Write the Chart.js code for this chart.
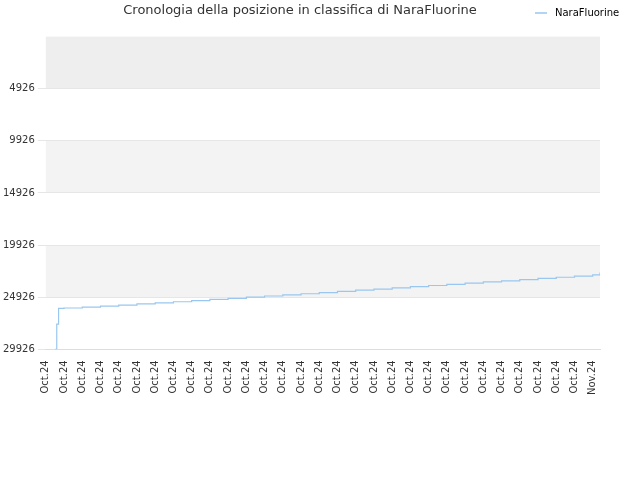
<!DOCTYPE html><html><head><meta charset="utf-8">
<script src="https://cdn.jsdelivr.net/npm/chart.js@4/dist/chart.umd.min.js"></script>
<style>html,body{margin:0;background:#fff}#w{width:640px;height:480px}</style></head><body><div id="w"><canvas id="c"></canvas></div>
<script>
const xLabels=["Oct.24","Oct.24","Oct.24","Oct.24","Oct.24","Oct.24","Oct.24","Oct.24","Oct.24","Oct.24","Oct.24","Oct.24","Oct.24","Oct.24","Oct.24","Oct.24","Oct.24","Oct.24","Oct.24","Oct.24","Oct.24","Oct.24","Oct.24","Oct.24","Oct.24","Oct.24","Oct.24","Oct.24","Oct.24","Oct.24","Nov.24"];
const yTicks=[4926,9926,14926,19926,24926,29926];
const dayPos=[0.5,0.6,0.7,1,2,3,4,5,6,7,8,9,10,11,12,13,14,15,16,17,18,19,20,21,22,23,24,25,26,27,28,29,30,30.4];
const rankValues=[29926,27500,25990,25960,25880,25780,25680,25570,25470,25360,25250,25140,25030,24920,24810,24700,24590,24480,24360,24250,24140,24020,23910,23800,23690,23570,23460,23350,23240,23120,23010,22900,22780,22560];
const seriesName="NaraFluorine";
const bands={id:'bands',beforeDraw(ch){const {ctx,chartArea:a,scales:{y}}=ch;const edges=[-74,...yTicks];const cols=['#eeeeee','#ffffff','#f3f3f3','#ffffff','#f3f3f3','#ffffff'];ctx.save();for(let i=0;i<edges.length-1;i++){const t=y.getPixelForValue(edges[i]),b=y.getPixelForValue(edges[i+1]);ctx.fillStyle=cols[i];ctx.fillRect(a.left,t,a.right-a.left,b-t);}ctx.restore();},
afterDraw(ch){const ctx=ch.ctx;ctx.save();ctx.strokeStyle='#99c7f0';ctx.lineWidth=1.5;ctx.beginPath();ctx.moveTo(535,13);ctx.lineTo(547,13);ctx.stroke();ctx.fillStyle='#000';ctx.font='10px "DejaVu Sans"';ctx.textBaseline='middle';ctx.fillText(seriesName,555,13);ctx.restore();}};
new Chart(document.getElementById('c'),{type:'line',
data:{datasets:[{label:seriesName,data:dayPos.map((x,i)=>({x,y:rankValues[i]})),borderColor:'#99c7f0',borderWidth:1.2,pointRadius:0,stepped:true,fill:false}]},
options:{responsive:true,maintainAspectRatio:false,animation:false,
layout:{padding:{left:0,right:40,top:0,bottom:82}},
plugins:{title:{display:true,text:'Cronologia della posizione in classifica di NaraFluorine',color:'#333',font:{family:'DejaVu Sans',size:13,weight:'normal'},padding:{top:3,bottom:18}},
legend:{display:false}},
scales:{x:{type:'linear',min:0,max:30.4,afterBuildTicks(s){s.ticks=xLabels.map((_,i)=>({value:i}));},
ticks:{autoSkip:false,maxRotation:90,minRotation:90,color:'#333',font:{family:'DejaVu Sans',size:10},callback:(v)=>xLabels[v]},
grid:{display:false},border:{color:'#ddd'}},
y:{reverse:true,min:-74,max:29926,afterBuildTicks(s){s.ticks=yTicks.map(v=>({value:v}));},
ticks:{color:'#333',font:{family:'DejaVu Sans',size:10},callback:(v)=>String(v)},grid:{color:'#e6e6e6'},border:{display:false}}}},
plugins:[bands]});
</script></body></html>
